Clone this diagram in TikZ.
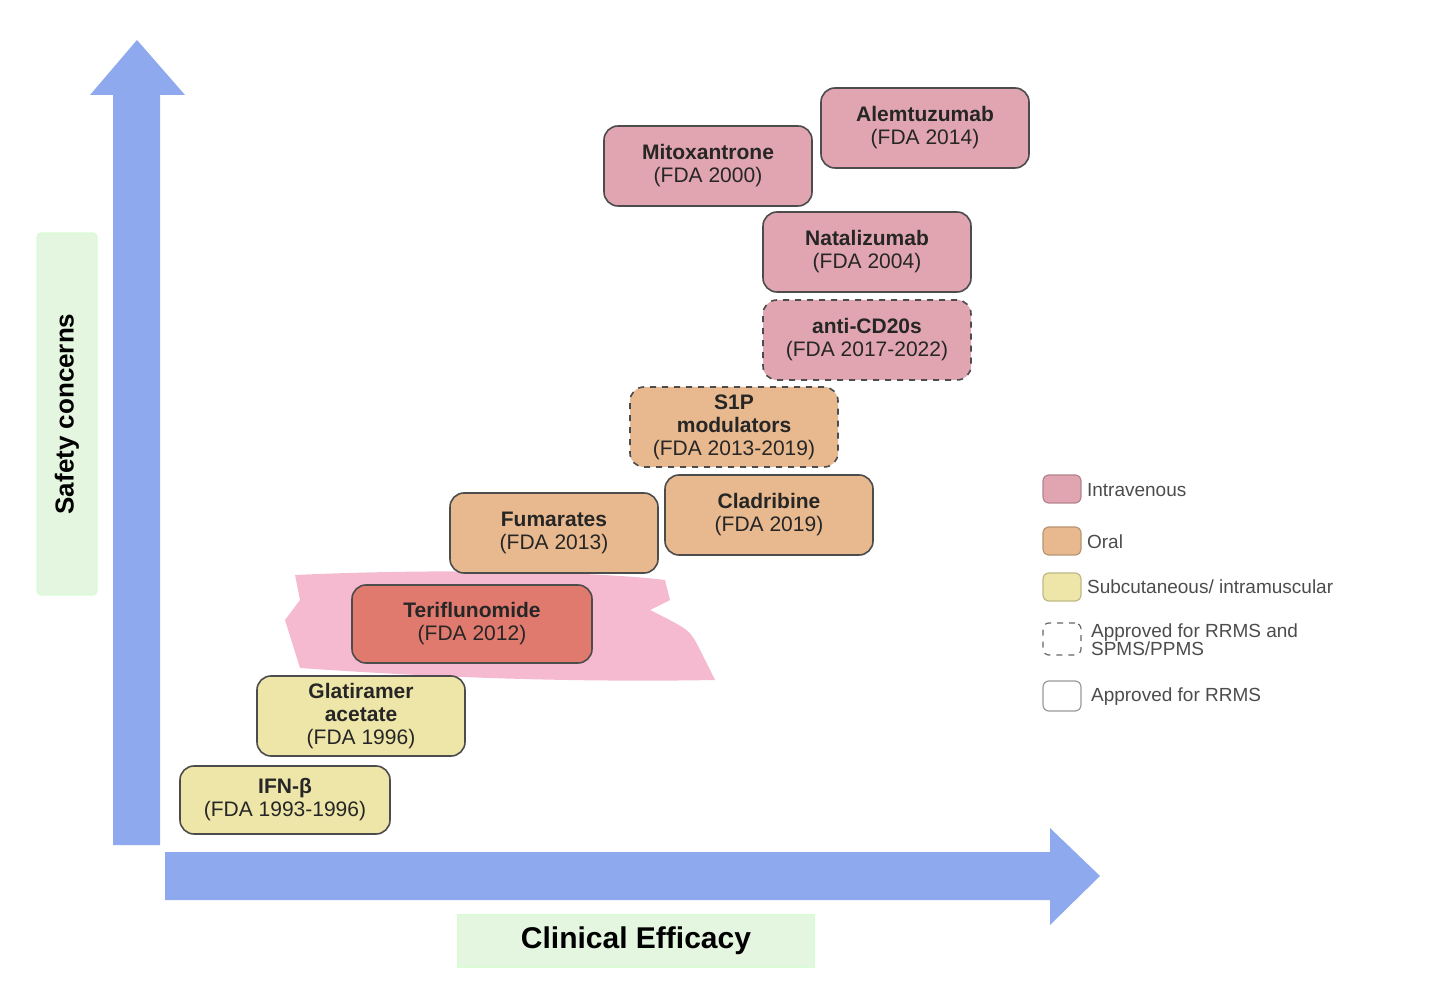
\documentclass[tikz,border=0pt]{standalone}
\usepackage{fontspec}
\setmainfont{Liberation Sans}
\begin{document}
\begin{tikzpicture}[x=0.5pt,y=-0.5pt,
 arr/.style={fill=arrblue,draw=none},
 drug/.style={draw=black!70,line width=0.8pt,rounded corners=7pt,align=center,font=\fontsize{10.5}{11.5}\selectfont,text=black!85},
 lab/.style={fill=labgreen,draw=labgreen!70!green!40,line width=0.6pt,font=\bfseries\fontsize{15}{17}\selectfont},
 leg/.style={rounded corners=3pt,line width=0.6pt},
 legt/.style={anchor=west,font=\fontsize{9.5}{10}\selectfont,text=black!70,align=left}]
\definecolor{arrblue}{HTML}{8EA9EE}
\definecolor{labgreen}{HTML}{E4F6DF}
\definecolor{iv}{HTML}{E0A5B0}
\definecolor{oral}{HTML}{E8B98F}
\definecolor{sc}{HTML}{EEE6A8}
\definecolor{teri}{HTML}{E07A6E}
\definecolor{brush}{HTML}{F2A8C4}
\useasboundingbox (0,0) rectangle (1440,999);
% arrows
\fill[arr] (113,845) -- (113,95) -- (90,95) -- (137,40) -- (185,95) -- (160,95) -- (160,845) -- cycle;
\fill[arr] (165,852) -- (1050,852) -- (1050,828) -- (1100,876) -- (1050,925) -- (1050,900) -- (165,900) -- cycle;
% axis labels
\node[lab,minimum width=30pt,minimum height=181pt,rounded corners=2pt] (sc1) at (67,414) {};
\node[rotate=90,font=\bfseries\fontsize{13}{15}\selectfont] (safety) at (67,414) {Safety concerns};
\node[lab,minimum width=178pt,minimum height=26pt] (ce) at (636,941) {Clinical Efficacy};
% brush
\fill[brush,opacity=0.8] (295,575) .. controls (450,568) and (600,572) .. (665,580) -- (670,600) -- (650,610) .. controls (690,630) .. (700,650) -- (715,680) .. controls (550,683) and (400,675) .. (300,668) -- (285,620) -- (300,600) -- cycle;
% drugs
\node[drug,fill=iv,minimum width=104pt,minimum height=40pt] (alem) at (925,128) {\textbf{Alemtuzumab}\\(FDA 2014)};
\node[drug,fill=iv,minimum width=104pt,minimum height=40pt] (mito) at (708,166) {\textbf{Mitoxantrone}\\(FDA 2000)};
\node[drug,fill=iv,minimum width=104pt,minimum height=40pt] (nata) at (867,252) {\textbf{Natalizumab}\\(FDA 2004)};
\node[drug,fill=iv,dashed,minimum width=104pt,minimum height=40pt] (cd20) at (867,340) {\textbf{anti-CD20s}\\(FDA 2017-2022)};
\node[drug,fill=oral,dashed,minimum width=104pt,minimum height=40pt] (s1p) at (734,427) {\textbf{S1P}\\\textbf{modulators}\\(FDA 2013-2019)};
\node[drug,fill=oral,minimum width=104pt,minimum height=40pt] (clad) at (769,515) {\textbf{Cladribine}\\(FDA 2019)};
\node[drug,fill=oral,minimum width=104pt,minimum height=40pt] (fuma) at (554,533) {\textbf{Fumarates}\\(FDA 2013)};
\node[drug,fill=teri,minimum width=120pt,minimum height=39pt] (teri) at (472,624) {\textbf{Teriflunomide}\\(FDA 2012)};
\node[drug,fill=sc,minimum width=104pt,minimum height=40pt] (glat) at (361,716) {\textbf{Glatiramer}\\\textbf{acetate}\\(FDA 1996)};
\node[drug,fill=sc,minimum width=105pt,minimum height=34pt] (ifn) at (285,800) {\textbf{IFN-β}\\(FDA 1993-1996)};
% legend
\node[leg,fill=iv,draw=iv!80!black,minimum width=19pt,minimum height=14pt] (l1) at (1062,489) {};
\node[legt] (t1) at (1080,490) {Intravenous};
\node[leg,fill=oral,draw=oral!80!black,minimum width=19pt,minimum height=14pt] (l2) at (1062,541) {};
\node[legt] (t2) at (1080,542) {Oral};
\node[leg,fill=sc,draw=sc!80!black,minimum width=19pt,minimum height=14pt] (l3) at (1062,587) {};
\node[legt] (t3) at (1080,587) {Subcutaneous/ intramuscular};
\node[leg,draw=black!60,dashed,minimum width=19pt,minimum height=16pt] (l4) at (1062,639) {};
\node[legt,font=\fontsize{9.5}{9}\selectfont] (t4) at (1084,640) {Approved for RRMS and\\SPMS/PPMS};
\node[leg,draw=black!40,minimum width=19pt,minimum height=15pt] (l5) at (1062,696) {};
\node[legt] (t5) at (1084,697) {Approved for RRMS};
\end{tikzpicture}
\end{document}
